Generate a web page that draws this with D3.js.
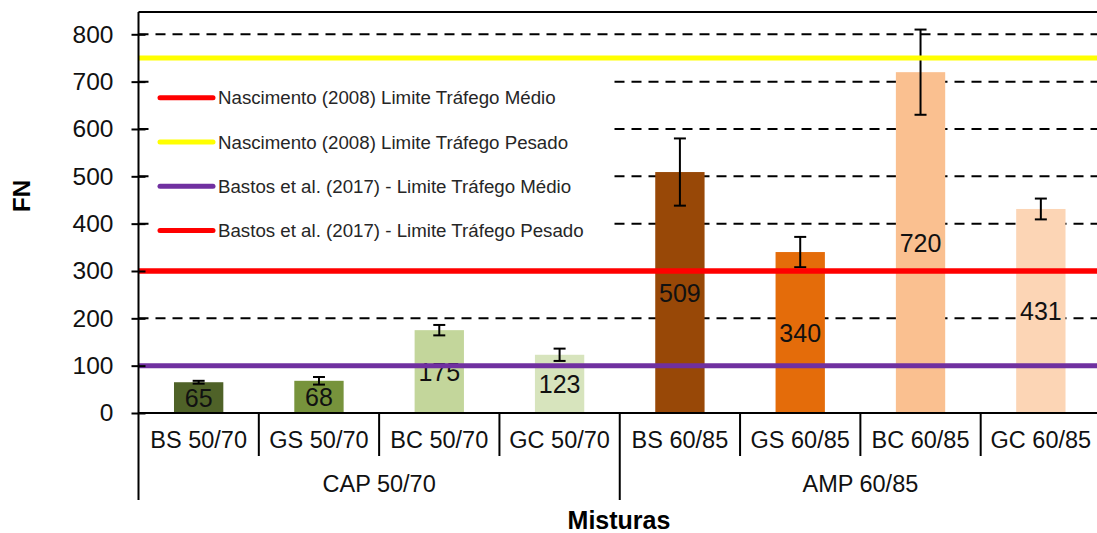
<!DOCTYPE html>
<html>
<head>
<meta charset="utf-8">
<script src="https://cdn.jsdelivr.net/npm/d3@7"></script>
<style>
  body { margin: 0; background: #fff; }
  text { font-family: "Liberation Sans", Arial, sans-serif; }
</style>
</head>
<body>
<div id="chart"></div>
<script>
// data
var categories = ["BS 50/70", "GS 50/70", "BC 50/70", "GC 50/70", "BS 60/85", "GS 60/85", "BC 60/85", "GC 60/85"];
var groups = ["CAP 50/70", "AMP 60/85"];
var fnValues = [65, 68, 175, 123, 509, 340, 720, 431];
var fnErrors = [3, 8, 11, 13, 71, 32, 90, 22];
var yTicks = [0, 100, 200, 300, 400, 500, 600, 700, 800];
var refLabels = [
    "Nascimento (2008) Limite Tráfego Médio",
    "Nascimento (2008) Limite Tráfego Pesado",
    "Bastos et al. (2017) - Limite Tráfego Médio",
    "Bastos et al. (2017) - Limite Tráfego Pesado"
];
var refValues = [300, 750, 100, 300];

var barColors = ["#4f6228", "#77933c", "#c3d69b", "#d7e4bd", "#984807", "#e46c0a", "#fac090", "#fcd5b5"];
var refColors = ["#ff0000", "#ffff00", "#7030a0", "#ff0000"];

function init() {
    var w = 1097;
    var h = 533;
    var left = 138.5;
    var right = 1101;
    var top = 12;
    var base = 413;

    var svg = d3.select("#chart")
        .append("svg")
        .attr("width", w)
        .attr("height", h);

    var x = d3.scaleBand()
        .domain(categories)
        .range([left, right])
        .padding(0);

    var y = d3.scaleLinear()
        .domain([0, 800])
        .range([base, 34.3]);

    var bw = x.bandwidth() * 0.41;

    // dashed gridlines
    svg.selectAll(".grid")
        .data(yTicks.filter(function(d) { return d > 0; }))
        .enter()
        .append("line")
        .attr("x1", left)
        .attr("x2", right)
        .attr("y1", function(d) { return y(d); })
        .attr("y2", function(d) { return y(d); })
        .attr("stroke", "#000")
        .attr("stroke-width", 2)
        .attr("stroke-dasharray", "10,7");

    // legend backdrop
    svg.append("rect")
        .attr("x", 150)
        .attr("y", 72)
        .attr("width", 458)
        .attr("height", 180)
        .attr("fill", "#fff");

    // bars
    svg.selectAll(".bar")
        .data(fnValues)
        .enter()
        .append("rect")
        .attr("x", function(d, i) { return x(categories[i]) + x.bandwidth() / 2 - bw / 2; })
        .attr("y", function(d) { return y(d); })
        .attr("width", bw)
        .attr("height", function(d) { return base - y(d); })
        .attr("fill", function(d, i) { return barColors[i]; });

    // error bars
    var eb = svg.selectAll(".err")
        .data(fnValues)
        .enter()
        .append("g")
        .attr("stroke", "#000")
        .attr("stroke-width", 2);
    eb.append("line")
        .attr("x1", function(d, i) { return x(categories[i]) + x.bandwidth() / 2; })
        .attr("x2", function(d, i) { return x(categories[i]) + x.bandwidth() / 2; })
        .attr("y1", function(d, i) { return y(d + fnErrors[i]); })
        .attr("y2", function(d, i) { return y(d - fnErrors[i]); });
    eb.append("line")
        .attr("x1", function(d, i) { return x(categories[i]) + x.bandwidth() / 2 - 6; })
        .attr("x2", function(d, i) { return x(categories[i]) + x.bandwidth() / 2 + 6; })
        .attr("y1", function(d, i) { return y(d + fnErrors[i]); })
        .attr("y2", function(d, i) { return y(d + fnErrors[i]); });
    eb.append("line")
        .attr("x1", function(d, i) { return x(categories[i]) + x.bandwidth() / 2 - 6; })
        .attr("x2", function(d, i) { return x(categories[i]) + x.bandwidth() / 2 + 6; })
        .attr("y1", function(d, i) { return y(d - fnErrors[i]); })
        .attr("y2", function(d, i) { return y(d - fnErrors[i]); });

    // value labels, centred in the bar
    svg.selectAll(".val")
        .data(fnValues)
        .enter()
        .append("text")
        .attr("x", function(d, i) { return x(categories[i]) + x.bandwidth() / 2; })
        .attr("y", function(d) { return (y(d) + base) / 2; })
        .attr("dy", "0.36em")
        .attr("text-anchor", "middle")
        .style("font-size", "25px")
        .style("fill", "#111")
        .text(function(d) { return d; });

    // reference lines
    svg.selectAll(".ref")
        .data(refValues)
        .enter()
        .append("line")
        .attr("x1", left)
        .attr("x2", right)
        .attr("y1", function(d) { return y(d); })
        .attr("y2", function(d) { return y(d); })
        .attr("stroke", function(d, i) { return refColors[i]; })
        .attr("stroke-width", 5);

    // frame and axes
    svg.append("line")
        .attr("x1", left).attr("x2", right)
        .attr("y1", top).attr("y2", top)
        .attr("stroke", "#000").attr("stroke-width", 2);
    svg.append("line")
        .attr("x1", left).attr("x2", left)
        .attr("y1", top).attr("y2", 500)
        .attr("stroke", "#000").attr("stroke-width", 2);
    svg.append("line")
        .attr("x1", left).attr("x2", right)
        .attr("y1", base).attr("y2", base)
        .attr("stroke", "#000").attr("stroke-width", 2);

    var yAxis = d3.axisLeft(y)
        .tickValues(yTicks)
        .tickSize(7)
        .tickPadding(18);
    var ya = svg.append("g")
        .attr("transform", "translate(" + left + ",0)")
        .call(yAxis);
    ya.select(".domain").remove();
    ya.selectAll(".tick line")
        .attr("x1", -7)
        .attr("x2", 7)
        .attr("stroke-width", 2);
    ya.selectAll(".tick text")
        .style("font-family", "Liberation Sans, Arial, sans-serif")
        .style("font-size", "24.5px")
        .style("fill", "#111");

    // category separators
    svg.selectAll(".sep")
        .data(d3.range(1, categories.length))
        .enter()
        .append("line")
        .attr("x1", function(i) { return x(categories[i]); })
        .attr("x2", function(i) { return x(categories[i]); })
        .attr("y1", base)
        .attr("y2", function(i) { return i === 4 ? 500 : 456; })
        .attr("stroke", "#000")
        .attr("stroke-width", 2);

    svg.selectAll(".cat")
        .data(categories)
        .enter()
        .append("text")
        .attr("x", function(d) { return x(d) + x.bandwidth() / 2; })
        .attr("y", 440)
        .attr("dy", "0.36em")
        .attr("text-anchor", "middle")
        .style("font-size", "23.5px")
        .style("fill", "#111")
        .text(function(d) { return d; });

    svg.selectAll(".grp")
        .data(groups)
        .enter()
        .append("text")
        .attr("x", function(d, i) {
            return (x(categories[i * 4]) + x(categories[i * 4 + 3]) + x.bandwidth()) / 2;
        })
        .attr("y", 484)
        .attr("dy", "0.36em")
        .attr("text-anchor", "middle")
        .style("font-size", "23.5px")
        .style("fill", "#111")
        .text(function(d) { return d; });

    // axis titles
    svg.append("text")
        .attr("x", 619)
        .attr("y", 529)
        .attr("text-anchor", "middle")
        .style("font-size", "25px")
        .style("font-weight", "bold")
        .text("Misturas");

    svg.append("text")
        .attr("transform", "translate(30,196) rotate(-90)")
        .attr("text-anchor", "middle")
        .style("font-size", "24px")
        .style("font-weight", "bold")
        .text("FN");

    // legend
    var lg = svg.selectAll(".leg")
        .data(refLabels)
        .enter()
        .append("g")
        .attr("transform", function(d, i) { return "translate(160," + (97.7 + i * 44.3) + ")"; });
    lg.append("line")
        .attr("x1", 0)
        .attr("x2", 53)
        .attr("stroke", function(d, i) { return refColors[i]; })
        .attr("stroke-width", 5)
        .attr("stroke-linecap", "round");
    lg.append("text")
        .attr("x", 58)
        .attr("dy", "0.36em")
        .style("font-size", "18.7px")
        .style("fill", "#262626")
        .text(function(d) { return d; });
}

window.onload = init;
</script>
</body>
</html>
